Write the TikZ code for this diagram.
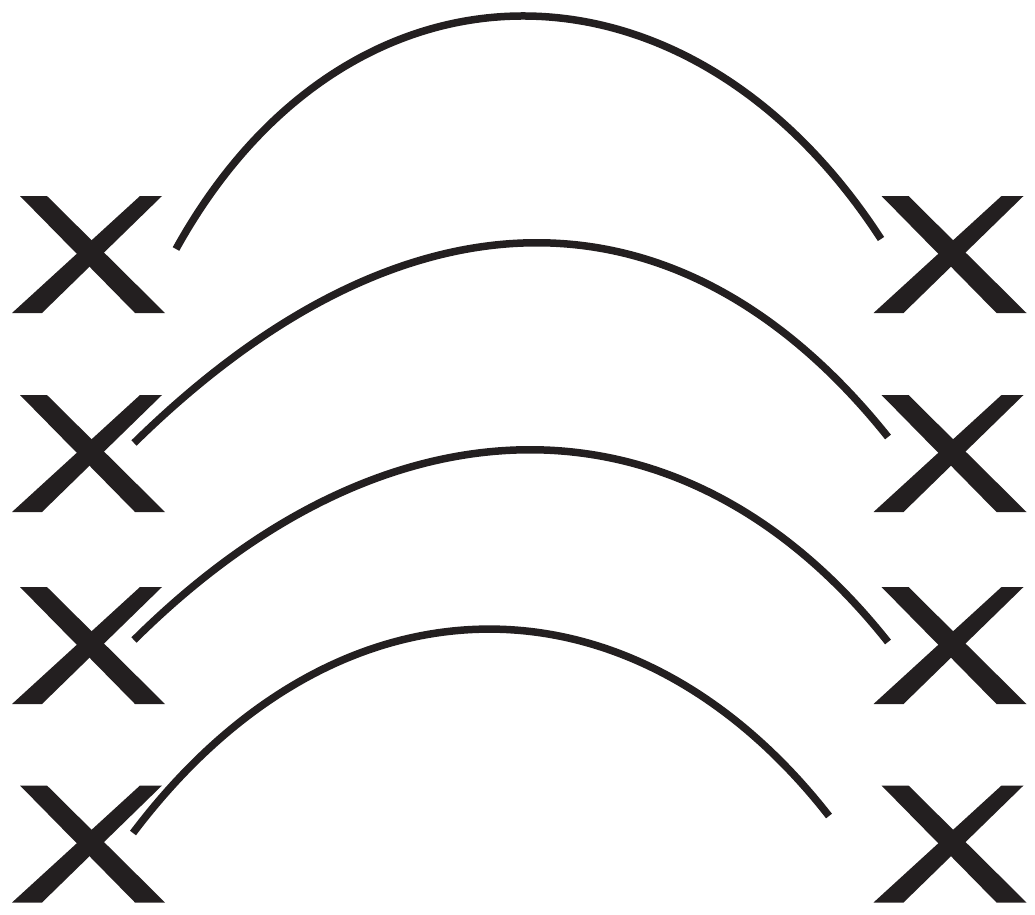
\documentclass[tikz,border=0pt]{standalone}
\usetikzlibrary{calc}
\definecolor{ink}{HTML}{231F20}
\tikzset{
  cross/.style={fill=ink, draw=none},
  arch/.style={draw=ink, line width=7.5pt, line cap=butt}
}
% one sans-serif style cross, drawn round a named centre
\newcommand{\crossmark}[1]{%
  \fill[cross, shift={(#1)}] (-68.5,-58.5) -- (-41.5,-58.5) -- (76.5,58.5) -- (46.5,58.5) -- cycle;
  \fill[cross, shift={(#1)}] (51.5,-58.5) -- (73.5,-58.5) -- (-46.5,58.5) -- (-76.5,58.5) -- cycle;
}

\begin{document}
\begin{tikzpicture}[x=1pt, y=-1pt]
\useasboundingbox (0,0) rectangle (1035,914);

% cross centres, left and right column
\coordinate (L1) at (88.5,254.5);
\coordinate (L2) at (88.5,453.5);
\coordinate (L3) at (88.5,645.5);
\coordinate (L4) at (88.5,844);
\coordinate (R1) at (950,254.5);
\coordinate (R2) at (950,453.5);
\coordinate (R3) at (950,645.5);
\coordinate (R4) at (950,844);

\foreach \c in {L1,L2,L3,L4,R1,R2,R3,R4}
  \crossmark{\c};

% arch end points
\coordinate (a1) at (176,249);
\coordinate (b1) at (881,239);
\coordinate (a2) at (134,443);
\coordinate (b2) at (888,437);
\coordinate (a3) at (134,640);
\coordinate (b3) at (888,642);
\coordinate (a4) at (133,833);
\coordinate (b4) at (829,816);

% the four arches
\draw[arch] (a1) .. controls (347,-60) and (687,-60) .. (b1);
\draw[arch] (a2) .. controls (405,177) and (680,177) .. (b2);
\draw[arch] (a3) .. controls (390,386) and (685,386) .. (b3);
\draw[arch] (a4) .. controls (336,564) and (632,564) .. (b4);

\end{tikzpicture}
\end{document}
